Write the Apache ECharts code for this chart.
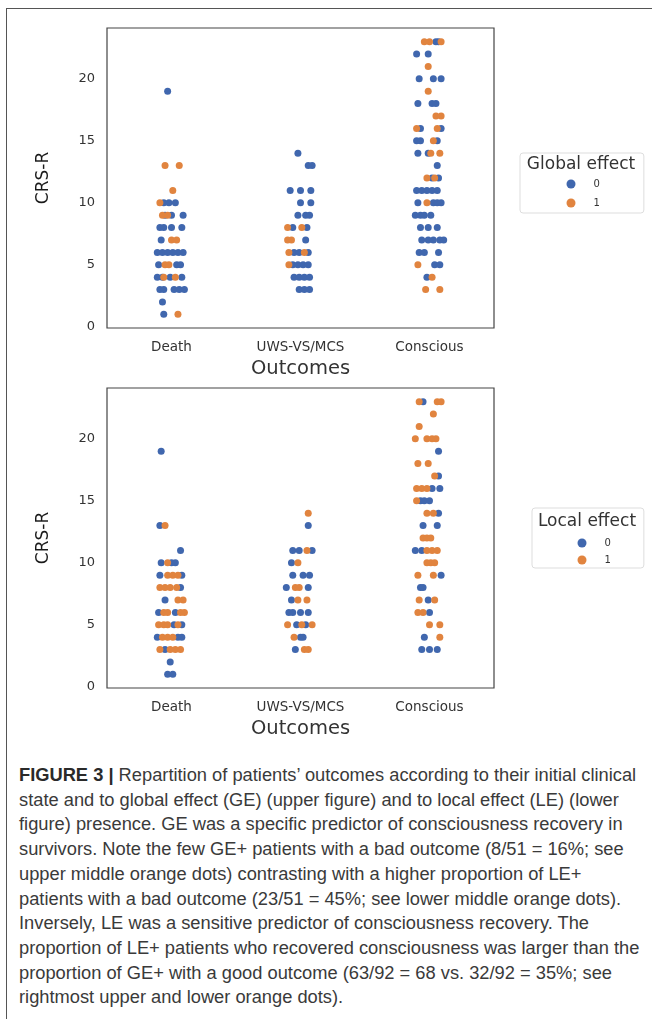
<!DOCTYPE html>
<html>
<head>
<meta charset="utf-8">
<script src="https://cdn.jsdelivr.net/npm/echarts@6/dist/echarts.min.js"></script>
<style>
  body { margin: 0; background: #fff; overflow: hidden; }
  #frame { position: absolute; left: 6px; top: 8px; width: 700px; height: 1100px;
           border-left: 1.5px solid #555; border-top: 1.5px solid #555; }
  #topChart { position: absolute; left: 0; top: 0; width: 652px; height: 380px; }
  #bottomChart { position: absolute; left: 0; top: 360px; width: 652px; height: 380px; }
  #caption { position: absolute; left: 19px; top: 763px; width: 640px;
             font-family: "Liberation Sans", Arial, sans-serif;
             font-size: 18.3px; line-height: 24.7px; color: #3a3a3a; white-space: nowrap; }
  #caption b { color: #2a2a2a; }
</style>
</head>
<body>
<div id="frame"></div>
<div id="topChart"></div>
<div id="bottomChart"></div>
<div id="caption">
<div><b>FIGURE 3 |</b> Repartition of patients’ outcomes according to their initial clinical</div>
<div>state and to global effect (GE) (upper figure) and to local effect (LE) (lower</div>
<div>figure) presence. GE was a specific predictor of consciousness recovery in</div>
<div>survivors. Note the few GE+ patients with a bad outcome (8/51 = 16%; see</div>
<div>upper middle orange dots) contrasting with a higher proportion of LE+</div>
<div>patients with a bad outcome (23/51 = 45%; see lower middle orange dots).</div>
<div>Inversely, LE was a sensitive predictor of consciousness recovery. The</div>
<div>proportion of LE+ patients who recovered consciousness was larger than the</div>
<div>proportion of GE+ with a good outcome (63/92 = 68 vs. 32/92 = 35%; see</div>
<div>rightmost upper and lower orange dots).</div>
</div>
<script>
const outcomes = ['Death', 'UWS-VS/MCS', 'Conscious']
const yTicks = [0, 5, 10, 15, 20]

// [jitter offset from the category centre, CRS-R score]
// upper figure: global effect
const geDeath0 = [[-0.03,19],[-0.06,10],[-0.02,10],[0.03,10],[-0.05,9],[0.00,9],[0.09,9],
  [-0.09,8],[-0.06,8],[0.00,8],[0.08,8],[-0.08,7],
  [-0.11,6],[-0.07,6],[-0.03,6],[0.01,6],[0.05,6],[0.09,6],
  [-0.10,5],[0.04,5],[0.07,5],[-0.11,4],[-0.07,4],[-0.01,4],[0.08,4],
  [-0.09,3],[-0.06,3],[0.02,3],[0.06,3],[0.10,3],[-0.07,2],[-0.06,1]]
const geDeath1 = [[-0.05,13],[0.06,13],[0.01,11],[-0.09,10],[-0.07,9],[-0.03,9],
  [0.00,7],[0.04,7],[-0.05,5],[-0.02,5],[-0.06,4],[0.03,4],[0.05,1]]
const geUws0 = [[-0.02,14],[0.06,13],[0.09,13],[-0.08,11],[0.00,11],[0.08,11],[0.00,10],[0.08,10],
  [-0.02,9],[0.04,9],[0.07,9],[-0.06,8],[0.05,8],[0.04,7],
  [-0.05,6],[-0.01,6],[0.06,6],[-0.06,5],[-0.02,5],[0.02,5],[0.06,5],
  [-0.05,4],[-0.01,4],[0.03,4],[0.07,4],[-0.01,3],[0.03,3],[0.07,3]]
const geUws1 = [[-0.10,8],[0.01,8],[-0.10,7],[-0.07,7],[-0.09,6],[0.03,6],[-0.09,5]]
const geCons0 = [[0.05,23],[0.07,23],[-0.10,22],[-0.01,22],[-0.08,20],[0.03,20],[0.09,20],
  [-0.09,18],[0.02,18],[0.05,18],[-0.07,16],[0.09,16],[-0.10,15],[-0.07,15],[0.06,15],
  [-0.09,14],[-0.01,14],[0.06,13],[0.02,12],[0.07,12],
  [-0.10,11],[-0.06,11],[-0.02,11],[0.02,11],[0.06,11],
  [-0.09,10],[0.03,10],[0.06,10],[0.09,10],[-0.11,9],[-0.07,9],[-0.04,9],[0.01,9],
  [-0.07,8],[-0.01,8],[0.06,8],[-0.06,7],[-0.01,7],[0.03,7],[0.08,7],[0.11,7],
  [-0.08,6],[-0.04,6],[0.07,6],[0.04,5],[0.08,5],[-0.02,4]]
const geCons1 = [[-0.04,23],[0.00,23],[0.09,23],[-0.01,21],[-0.01,19],[0.05,17],[0.09,17],
  [-0.10,16],[0.06,16],[0.03,15],[0.01,14],[0.08,14],[-0.02,12],[0.04,12],
  [-0.02,10],[-0.09,5],[0.02,4],[-0.03,3],[0.08,3]]

// lower figure: local effect
const leDeath0 = [[-0.08,19],[-0.09,13],[0.07,11],[-0.08,10],[0.00,10],[0.03,10],
  [-0.09,9],[0.08,9],[0.07,8],[-0.05,7],[-0.10,6],[0.03,6],[0.02,5],[0.08,5],
  [-0.11,4],[0.05,4],[0.08,4],[-0.05,3],[-0.01,2],[-0.03,1],[0.01,1]]
const leDeath1 = [[-0.05,13],[-0.03,10],[-0.03,9],[0.01,9],[0.05,9],
  [-0.09,8],[-0.05,8],[-0.01,8],[0.04,8],[0.05,7],[0.09,7],
  [-0.06,6],[-0.03,6],[0.07,6],[0.10,6],[-0.10,5],[-0.06,5],[-0.03,5],[0.05,5],
  [-0.07,4],[-0.03,4],[0.01,4],[-0.09,3],[-0.01,3],[0.03,3],[0.07,3]]
const leUws0 = [[0.06,13],[-0.06,11],[-0.01,11],[0.09,11],[-0.07,10],[-0.06,9],[0.02,9],[0.07,9],
  [-0.11,8],[0.06,8],[-0.07,7],[-0.09,6],[-0.06,6],[0.00,6],[0.06,6],
  [-0.03,5],[0.04,5],[0.00,4],[0.02,4],[-0.04,3]]
const leUws1 = [[0.06,14],[0.05,11],[-0.02,10],[-0.04,8],[-0.01,8],[-0.02,7],[0.05,7],
  [-0.10,5],[0.01,5],[0.09,5],[-0.05,4],[0.03,3],[0.06,3]]
const leCons0 = [[-0.05,23],[0.07,19],[0.07,17],[0.02,16],[0.08,16],[-0.07,15],[-0.04,15],[0.00,15],
  [0.07,14],[-0.05,13],[0.06,13],[-0.11,11],[-0.06,11],[0.09,9],[-0.07,8],[-0.05,8],
  [-0.01,7],[0.00,6],[-0.04,4],[-0.06,3],[0.00,3],[0.06,3]]
const leCons1 = [[-0.08,23],[0.06,23],[0.09,23],[0.03,22],[-0.08,21],
  [-0.11,20],[-0.02,20],[0.02,20],[0.05,20],[-0.09,18],[-0.01,18],[0.04,17],
  [-0.10,16],[-0.06,16],[-0.02,16],[-0.10,15],[-0.02,14],[0.03,14],
  [-0.05,12],[-0.02,12],[0.01,12],[-0.02,11],[0.02,11],[0.06,11],
  [-0.02,10],[0.01,10],[0.04,10],[-0.09,9],[0.03,9],[-0.08,7],[0.04,7],
  [-0.09,6],[-0.05,6],[0.00,5],[0.08,5],[0.08,4]]

const blue = '#4067ae'
const orange = '#e1843f'
const font = 'DejaVu Sans'

function place(groups) {
  // groups[i] holds the points of outcome i
  const out = []
  groups.forEach(function (g, i) {
    g.forEach(function (p) { out.push([i + p[0], p[1]]) })
  })
  return out
}

function buildOption(effect, zeros, ones, lg) {
  return {
    animation: false,
    grid: { left: 107, top: 28, width: 387, height: 300, show: true,
            borderColor: '#444', borderWidth: 1.2, outerBoundsMode: 'none', containLabel: false },
    xAxis: {
      type: 'value', min: -0.5, max: 2.5,
      axisLine: { show: false }, axisTick: { show: false }, splitLine: { show: false },
      axisLabel: { customValues: [0, 1, 2], formatter: v => outcomes[Math.round(v)],
                   fontFamily: font, fontSize: 13.5, color: '#333', margin: 12 },
      name: 'Outcomes', nameLocation: 'middle', nameGap: 27,
      nameTextStyle: { fontFamily: font, fontSize: 19.5, color: '#333' }
    },
    yAxis: {
      type: 'value', min: -0.1, max: 24.1,
      axisLine: { show: false }, axisTick: { show: false }, splitLine: { show: false },
      axisLabel: { customValues: yTicks, fontFamily: font, fontSize: 13, color: '#333', margin: 12 },
      name: 'CRS-R', nameLocation: 'middle', nameGap: 55, nameRotate: 90,
      nameTextStyle: { fontFamily: font, fontSize: 17, color: '#1a1a1a' }
    },
    legend: {
      orient: 'vertical', left: lg.left, top: lg.top,
      padding: lg.padding, itemGap: lg.gap,
      borderColor: '#ddd', borderWidth: 1, borderRadius: 3,
      icon: 'circle', itemWidth: 9, itemHeight: 9,
      textStyle: { fontFamily: font, fontSize: 10, lineHeight: 10, color: '#333', padding: [0, 0, 0, 13] },
      data: ['0', '1']
    },
    graphic: [{
      type: 'text', x: lg.titleX, y: lg.titleY,
      style: { text: effect, font: '17px "DejaVu Sans"', fill: '#333',
               textAlign: 'center', textVerticalAlign: 'middle' }
    }],
    series: [
      { name: '0', type: 'scatter', symbolSize: 7, itemStyle: { color: blue, opacity: 1 },
        data: place(zeros) },
      { name: '1', type: 'scatter', symbolSize: 7, itemStyle: { color: orange, opacity: 1 },
        data: place(ones) }
    ]
  }
}

let topChart = echarts.init(document.getElementById('topChart'))
topChart.setOption(buildOption('Global effect',
  [geDeath0, geUws0, geCons0], [geDeath1, geUws1, geCons1],
  { left: 520, top: 153, padding: [26, 44, 5, 46.5], gap: 9, titleX: 581, titleY: 165 }))

let bottomChart = echarts.init(document.getElementById('bottomChart'))
bottomChart.setOption(buildOption('Local effect',
  [leDeath0, leUws0, leCons0], [leDeath1, leUws1, leCons1],
  { left: 532, top: 148, padding: [30, 33, 3, 45.5], gap: 7, titleX: 587, titleY: 162 }))
</script>
</body>
</html>
